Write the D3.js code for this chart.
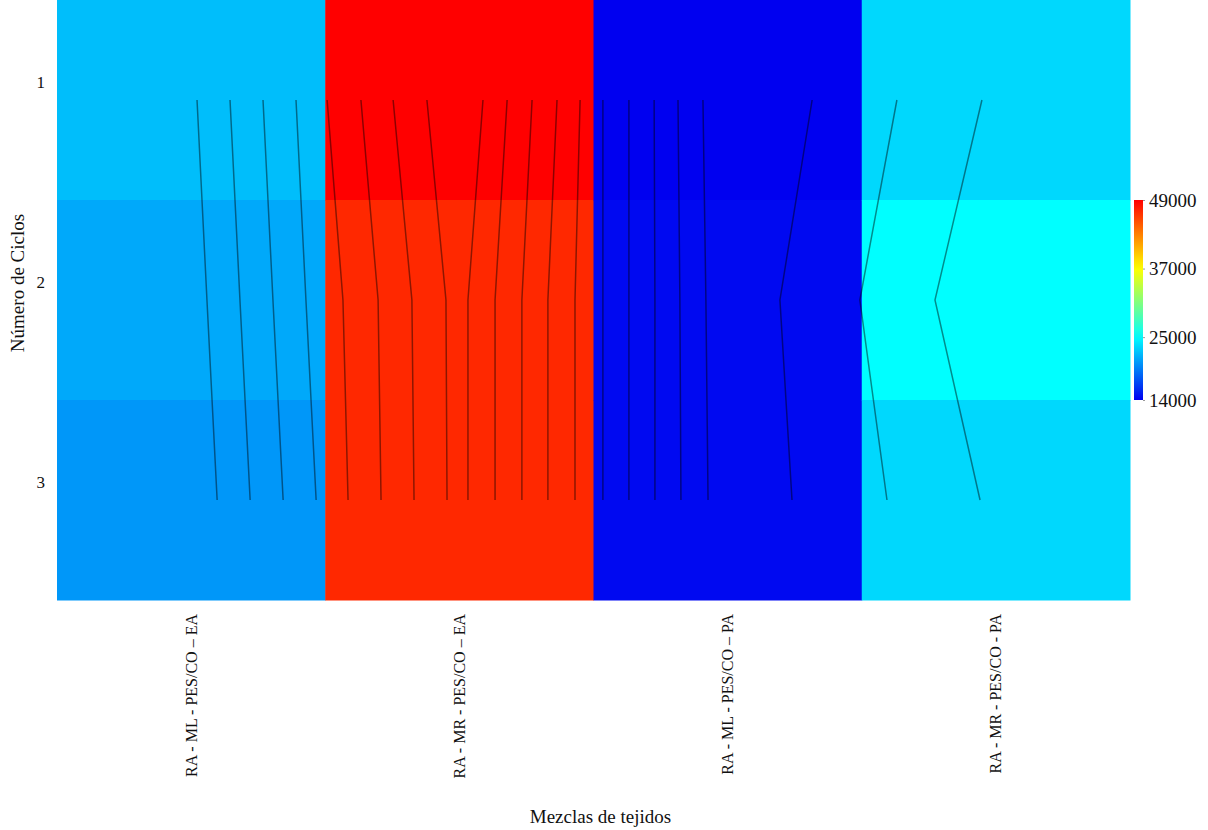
<!DOCTYPE html>
<html>
<head>
<meta charset="utf-8">
<script src="https://cdn.jsdelivr.net/npm/d3@7"></script>
<style>
  body { margin: 0; background: #fff; }
  text { font-family: "Liberation Serif", "Times New Roman", serif; fill: #111; }
</style>
</head>
<body>
<div id="chart"></div>
<script>
// fabric blends on x, cycles on y
const categories = ["RA - ML - PES/CO – EA", "RA - MR - PES/CO – EA", "RA - ML - PES/CO – PA", "RA - MR - PES/CO - PA"];
const cycles = [1, 2, 3];

// cell values per blend, for cycle 1, 2, 3
const blendValues = [
  [22200, 21300, 20500],
  [49000, 47100, 47100],
  [14000, 14400, 14400],
  [23300, 25000, 23300]
];

const colorTicks = [14000, 25000, 37000, 49000];

// overlay lines: x position (in blend units) at cycle 1, 2, 3
const overlayLines = [
  [0.522, 0.559, 0.597], [0.645, 0.682, 0.720], [0.768, 0.805, 0.843], [0.891, 0.928, 0.966],
  [1.007, 1.066, 1.085], [1.133, 1.197, 1.208], [1.253, 1.323, 1.331], [1.379, 1.450, 1.454],
  [1.588, 1.532, 1.532], [1.678, 1.633, 1.633], [1.771, 1.733, 1.733], [1.864, 1.830, 1.830],
  [1.950, 1.931, 1.931],
  [2.035, 2.035, 2.035], [2.132, 2.132, 2.132], [2.226, 2.229, 2.229], [2.315, 2.322, 2.326],
  [2.408, 2.419, 2.427], [2.815, 2.695, 2.740],
  [3.131, 2.993, 3.094], [3.448, 3.273, 3.441]
];

const W = 1208, H = 830;
const margin = { left: 57, right: 78, top: 0, bottom: 230 };
const plotW = W - margin.left - margin.right;
const plotH = H - margin.top - margin.bottom;

const svg = d3.select('#chart').append('svg')
  .attr('width', W)
  .attr('height', H);

const x = d3.scaleBand().domain(categories).range([margin.left, margin.left + plotW]);
const xLine = d3.scaleLinear().domain([0, categories.length]).range([margin.left, margin.left + plotW]);
const y = d3.scaleBand().domain(cycles).range([margin.top, margin.top + plotH]);
const yLine = d3.scalePoint().domain(cycles).range([margin.top, margin.top + plotH]).padding(0.5);

const color = d3.scaleLinear()
  .domain(colorTicks)
  .range(['#0000f0', '#00ffff', '#ffff00', '#ff0000'])
  .clamp(true);

// heatmap cells
let cells = [];
categories.forEach(function (c, i) {
  cycles.forEach(function (cy, j) {
    cells.push({ cat: c, cycle: cy, value: blendValues[i][j] });
  });
});

svg.append('g').selectAll('rect')
  .data(cells)
  .enter()
  .append('rect')
  .attr('x', d => x(d.cat))
  .attr('y', d => y(d.cycle))
  .attr('width', x.bandwidth() + 0.5)
  .attr('height', y.bandwidth() + 0.5)
  .attr('fill', d => color(d.value));

// overlay lines
const line = d3.line()
  .x(d => xLine(d.pos))
  .y(d => yLine(d.cycle));

svg.append('g').selectAll('path')
  .data(overlayLines)
  .enter()
  .append('path')
  .attr('d', d => line(d.map((p, k) => ({ pos: p, cycle: cycles[k] }))))
  .attr('fill', 'none')
  .attr('stroke', '#000')
  .attr('stroke-opacity', 0.45)
  .attr('stroke-width', 1.5);

// y axis
const yAxis = svg.append('g')
  .attr('transform', 'translate(' + (margin.left - 8) + ',-17)')
  .call(d3.axisLeft(y).tickSize(0).tickPadding(4));
yAxis.select('.domain').remove();
yAxis.selectAll('text')
  .style('font-family', '"Liberation Serif", serif')
  .style('font-size', '17px')
  .attr('fill', '#111');

svg.append('text')
  .attr('transform', 'rotate(-90)')
  .attr('x', -283)
  .attr('y', 24)
  .style('text-anchor', 'middle')
  .style('font-size', '19px')
  .text('Número de Ciclos');

// x axis
const xAxis = svg.append('g')
  .attr('transform', 'translate(0,' + (margin.top + plotH) + ')')
  .call(d3.axisBottom(x).tickSize(0).tickPadding(15));
xAxis.select('.domain').remove();
xAxis.selectAll('text')
  .style('font-family', '"Liberation Serif", serif')
  .style('font-size', '16px')
  .attr('fill', '#111')
  .attr('y', 0)
  .attr('x', -14)
  .attr('dy', '0.35em')
  .attr('transform', 'rotate(-90)')
  .style('text-anchor', 'end');

svg.append('text')
  .attr('x', margin.left + plotW / 2 + 7)
  .attr('y', 823)
  .style('text-anchor', 'middle')
  .style('font-size', '19px')
  .text('Mezclas de tejidos');

// colorbar
const cbX = 1134, cbW = 9;
const cbScale = d3.scaleLinear().domain([colorTicks[0], colorTicks[colorTicks.length - 1]]).range([400, 200]);

const grad = svg.append('defs').append('linearGradient')
  .attr('id', 'cbgrad')
  .attr('x1', 0).attr('y1', 1).attr('x2', 0).attr('y2', 0);
d3.range(0, 1.0001, 0.05).forEach(function (t) {
  const v = cbScale.domain()[0] + t * (cbScale.domain()[1] - cbScale.domain()[0]);
  grad.append('stop').attr('offset', t).attr('stop-color', color(v));
});

svg.append('rect')
  .attr('x', cbX)
  .attr('y', cbScale.range()[1])
  .attr('width', cbW)
  .attr('height', cbScale.range()[0] - cbScale.range()[1])
  .attr('fill', 'url(#cbgrad)');

const cbAxis = svg.append('g')
  .attr('transform', 'translate(' + (cbX + cbW) + ',0)')
  .call(d3.axisRight(cbScale).tickValues(colorTicks).tickFormat(d3.format('d')).tickSize(2).tickPadding(4));
cbAxis.select('.domain').remove();
cbAxis.selectAll('line').attr('stroke', '#999');
cbAxis.selectAll('text')
  .style('font-family', '"Liberation Serif", serif')
  .style('font-size', '19px')
  .attr('fill', '#111');
</script>
</body>
</html>
